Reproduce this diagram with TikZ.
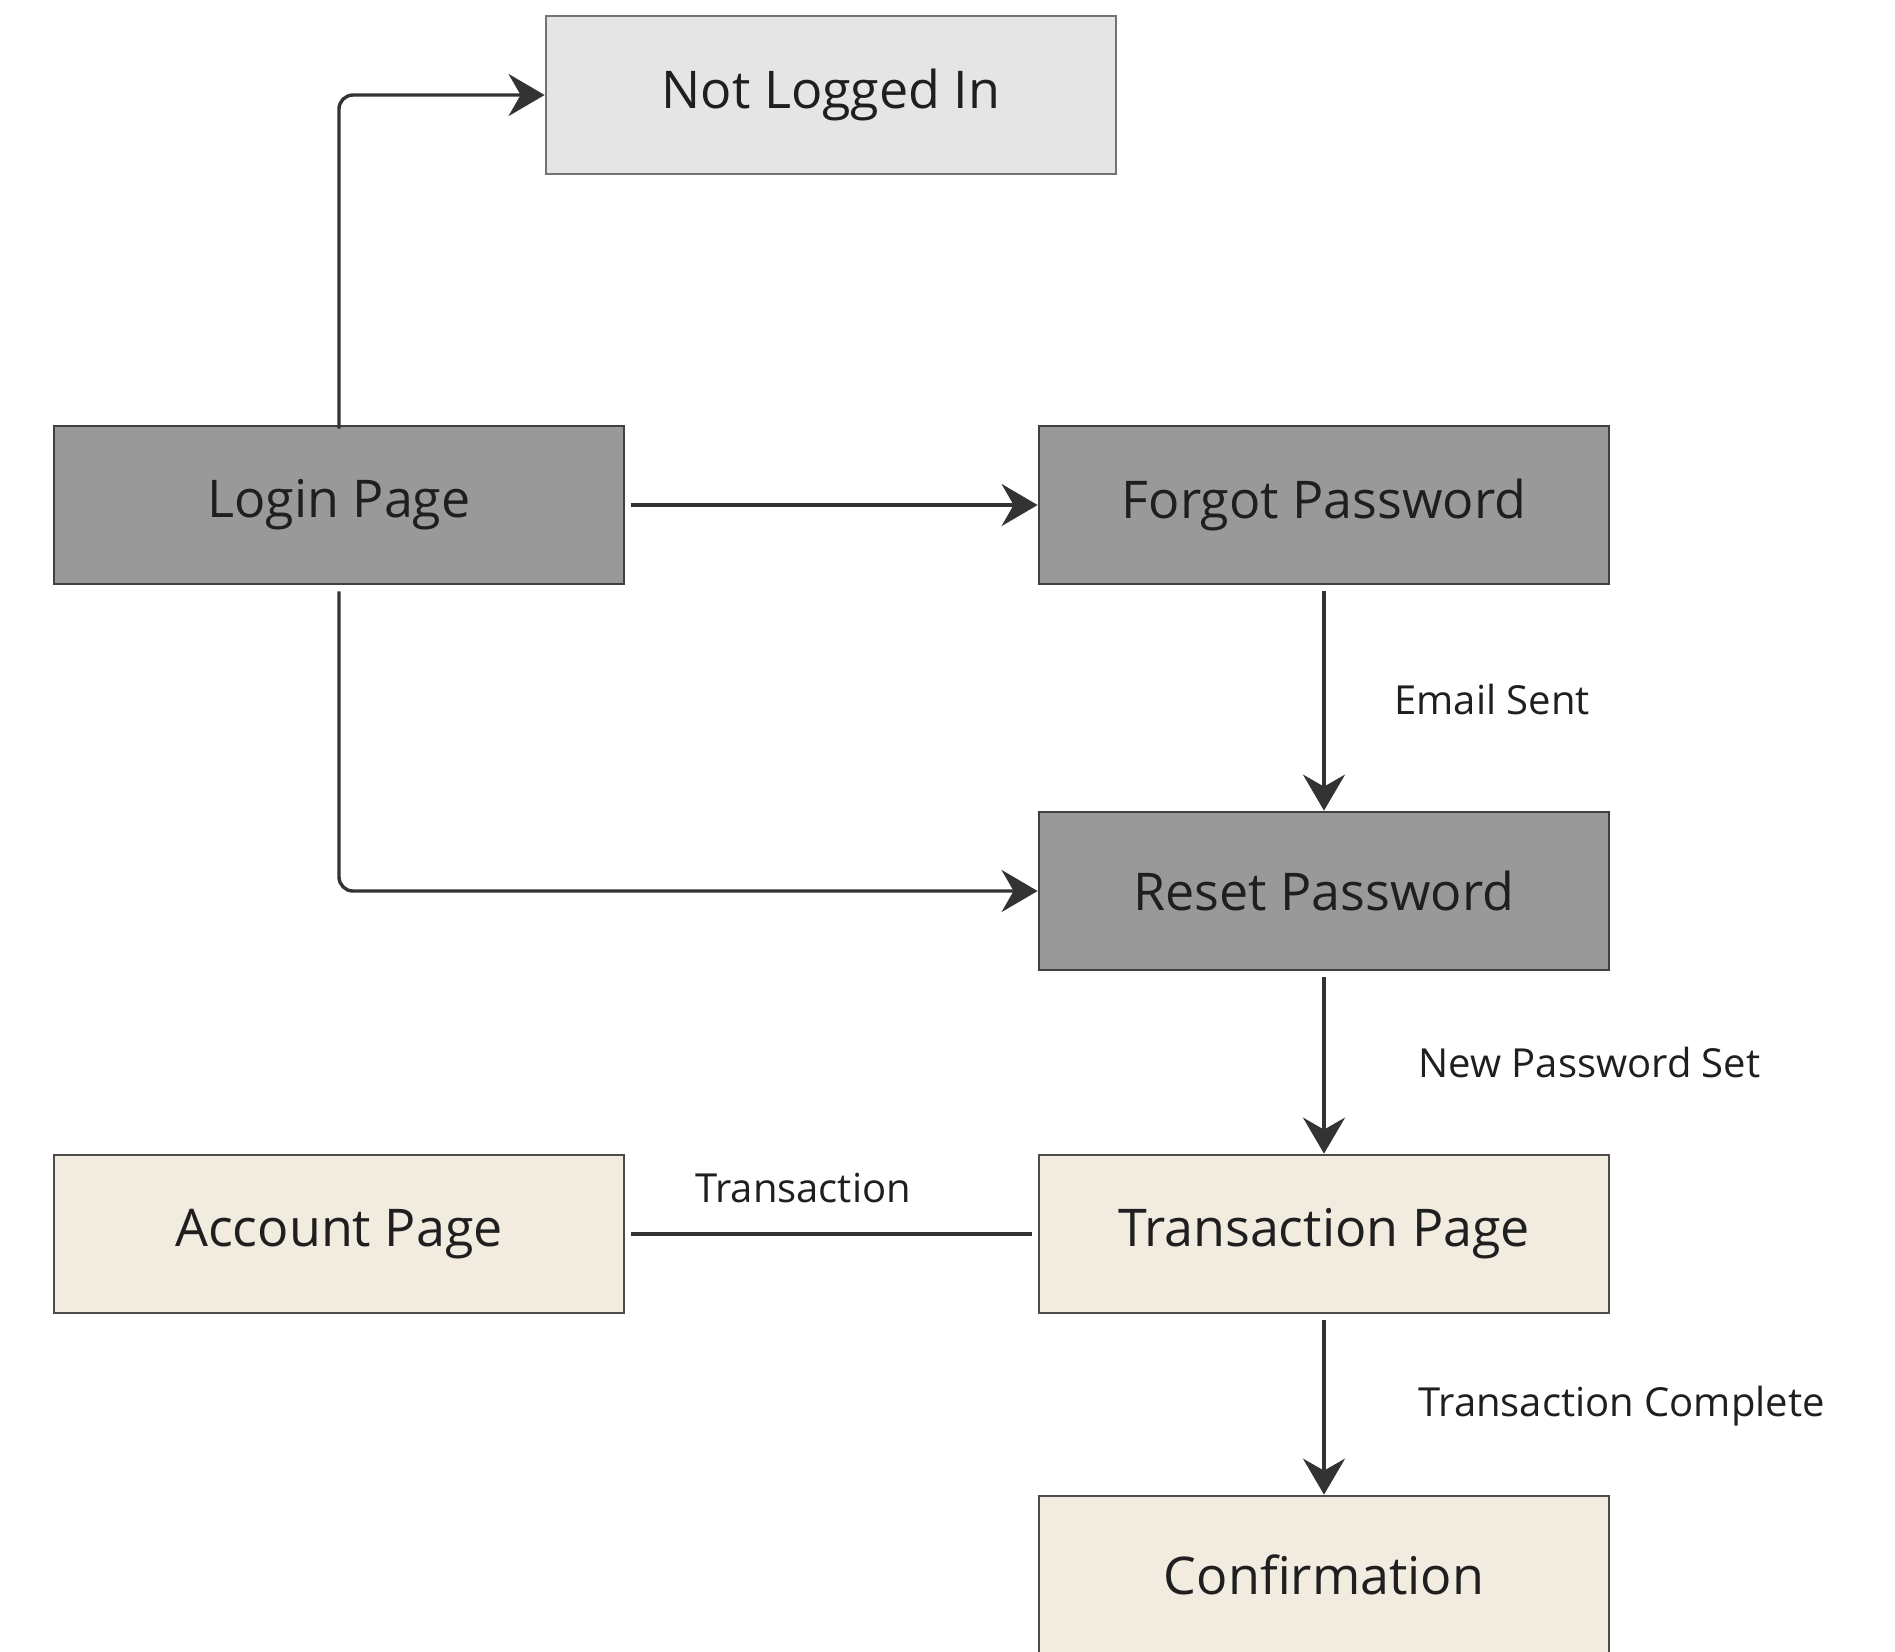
\documentclass[tikz,border=0pt]{standalone}
\usepackage{fontspec}
\setmainfont{Open Sans}
\usetikzlibrary{arrows.meta}
\definecolor{linegray}{HTML}{333333}
\definecolor{palegray}{HTML}{E5E5E5}
\definecolor{midgray}{HTML}{999999}
\definecolor{beige}{HTML}{F2ECE0}
\tikzset{
  box/.style={draw=#1, line width=1.4pt, minimum width=285pt, minimum height=79pt,
    inner sep=0pt, font=\fontsize{26}{30}\selectfont, text=black!88},
  lightbox/.style={box=black!55, fill=palegray},
  darkbox/.style={box=black!75, fill=midgray},
  creambox/.style={box=black!70, fill=beige},
  flow/.style={draw=linegray, line width=1.7pt, rounded corners=7pt,
    -{Stealth[length=18pt, width=21pt, inset=6pt]}},
  plainflow/.style={draw=linegray, line width=1.7pt},
  lbl/.style={font=\fontsize{20}{24}\selectfont, text=black!88, inner sep=0pt}
}
\begin{document}
\begin{tikzpicture}[x=0.5pt, y=-0.5pt]
  \useasboundingbox (0,0) rectangle (1895,1651);
  \clip (0,0) rectangle (1895,1651);
  \fill[white] (0,0) rectangle (1895,1651);

  % states
  \node[lightbox] (notlogged) at (831,95)   {Not Logged In};
  \node[darkbox]  (login)     at (339,505)  {Login Page};
  \node[darkbox]  (forgot)    at (1324,505) {Forgot Password};
  \node[darkbox]  (reset)     at (1324,891) {Reset Password};
  \node[creambox] (account)   at (339,1234) {Account Page};
  \node[creambox] (trans)     at (1324,1234){Transaction Page};
  \node[creambox] (confirm)   at (1324,1575){Confirmation};

  % transitions
  \draw[flow] ([yshift=-2pt]login.north) |- (notlogged.west);
  \draw[flow] ([xshift=3pt]login.east) -- (forgot.west);
  \draw[flow] ([yshift=-3pt]login.south) |- (reset.west);
  \draw[flow] ([yshift=-3pt]forgot.south) -- (reset.north);
  \draw[flow] ([yshift=-3pt]reset.south) -- (trans.north);
  \draw[flow] ([yshift=-3pt]trans.south) -- (confirm.north);
  \draw[plainflow] ([xshift=3pt]account.east) -- ([xshift=-3pt]trans.west);

  % transition labels
  \node[lbl, anchor=west] (lemail) at (1394,699)  {Email Sent};
  \node[lbl, anchor=west] (lnew)   at (1418,1062) {New Password Set};
  \node[lbl]              (ltx)    at (803,1188)  {Transaction};
  \node[lbl, anchor=west] (ldone)  at (1418,1406) {Transaction Complete};
\end{tikzpicture}
\end{document}
